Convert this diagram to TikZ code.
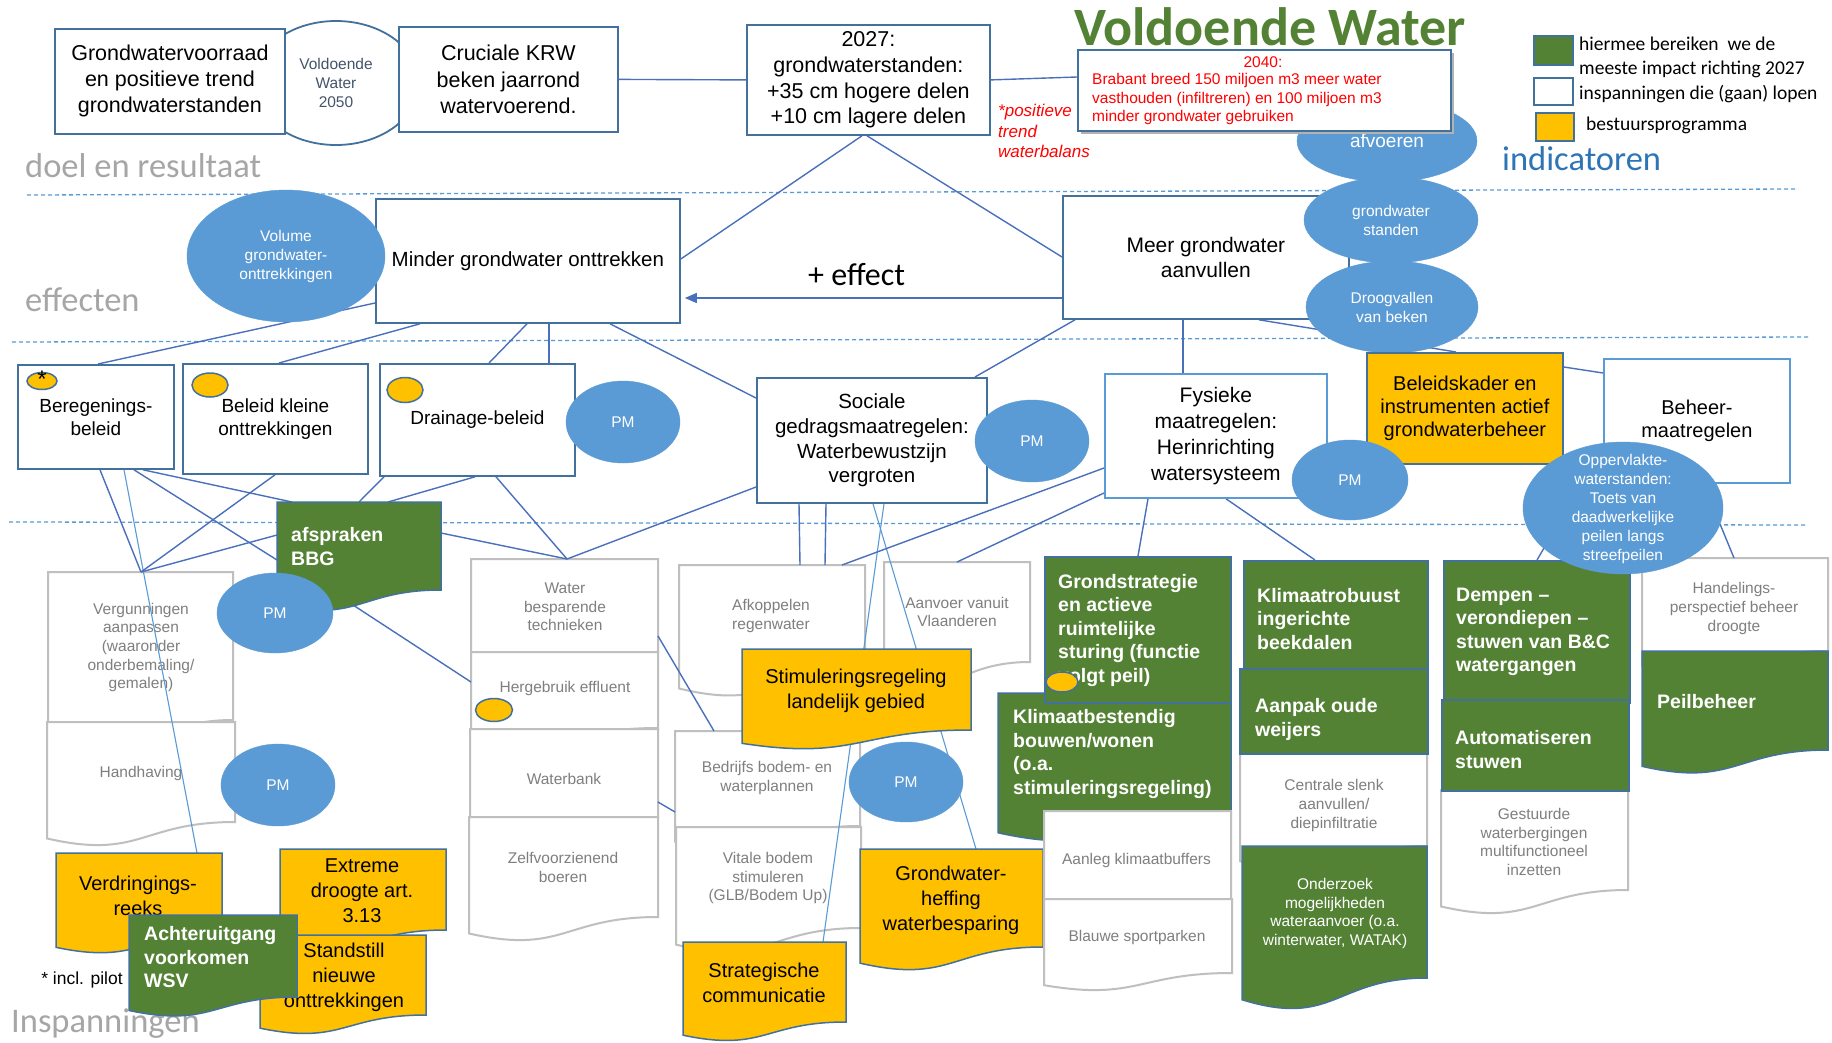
\documentclass[tikz,border=0pt]{standalone}
\usepackage{fontspec}
\setmainfont{Liberation Sans}
\newfontfamily\calfont{Carlito}
\usetikzlibrary{shapes.geometric,arrows.meta,calc,fit}
\definecolor{bbord}{RGB}{65,113,156}
\definecolor{lblue}{RGB}{91,155,213}
\definecolor{ggreen}{RGB}{84,130,53}
\definecolor{yyel}{RGB}{255,192,0}
\definecolor{gbord}{RGB}{191,191,191}
\definecolor{gtext}{RGB}{127,127,127}
\definecolor{connc}{RGB}{74,112,188}
\definecolor{labgray}{RGB}{166,166,166}
\definecolor{indblue}{RGB}{46,117,182}
\definecolor{slate}{RGB}{68,84,106}
\definecolor{redt}{RGB}{255,0,0}
\newcommand\fs[2]{\fontsize{#1}{#2}\selectfont}
\pgfdeclarelayer{bgl}
\pgfdeclarelayer{grayl}
\pgfdeclarelayer{linel}
\pgfsetlayers{bgl,grayl,linel,main}
\newcommand\docsh[6]{%
  \node[fit={(#3,#4)(#5,#6)},inner sep=0pt,outer sep=0pt] (#1) {};
  \pgfmathsetmacro\dmx{(#3+#5)/2}%
  \pgfmathsetmacro\dyl{#4+1.1646*(#6-#4)}%
  \pgfmathsetmacro\dcy{\dyl+1.31*(\dyl-#6)}%
  \path[#2] (#3,#4) -- (#5,#4) -- (#5,#6) .. controls (\dmx,#6) and (\dmx,\dcy) .. (#3,\dyl) -- cycle;
}
\begin{document}
\begin{tikzpicture}[x=1pt,y=-1pt,
  bx/.style={draw=bbord, line width=1.8pt, fill=white, inner sep=0pt, align=center, anchor=north west},
  bxl/.style={bx, draw=lblue},
  gdoc/.style={draw=gbord, line width=2pt, fill=white},
  ydoc/.style={draw=bbord, line width=1.5pt, fill=yyel},
  grdoc/.style={draw=bbord, line width=1.5pt, fill=ggreen},
  grbox/.style={draw=bbord, line width=1.5pt, fill=ggreen, inner sep=0pt, anchor=north west},
  gt/.style={inner sep=0pt, align=center, text=gtext, font=\fs{15.5}{18.7}},
  wt/.style={inner sep=0pt, align=left, text=white, font=\bfseries\fs{19.5}{23.5}, anchor=west},
  yt/.style={inner sep=0pt, align=center, font=\fs{20}{25}},
  bell/.style={ellipse, fill=lblue, draw=lblue, inner sep=0pt, text=white, align=center, font=\fs{15.5}{19}},
  yell/.style={ellipse, fill=yyel, draw=bbord, line width=1.5pt, inner sep=0pt},
  conn/.style={draw=connc, line width=1.4pt},
  lconn/.style={draw=lblue, line width=1.1pt},
  dline/.style={draw=lblue, line width=1.3pt, dash pattern=on 4pt off 3pt},
  lab/.style={inner sep=0pt, anchor=base west, font=\calfont\fs{34.5}{40}, text=labgray}]
\useasboundingbox (0,0) rectangle (1832,1042);
\begin{pgfonlayer}{bgl}
\fill[white] (0,0) rectangle (1832,1042);
\draw[dline] (27,195) -- (1798,189);
\draw[dline] (12,342) -- (1810,337);
\draw[dline] (9,522) -- (1805,525);
\end{pgfonlayer}

% section labels
\node[lab] (lab1) at (25,177) {doel en resultaat};
\node[lab] (lab2) at (25,311) {effecten};
\node[lab] (lab3) at (11,1032) {Inspanningen};
\node[lab, text=indblue] (ind) at (1502,170) {indicatoren};
\node[inner sep=0pt, anchor=base, font=\calfont\bfseries\fs{54}{60}, text=ggreen] (title) at (1270,45) {Voldoende Water};

% legend
\node[draw=bbord, line width=1.5pt, fill=ggreen, minimum width=39, minimum height=29, anchor=north west, inner sep=0pt] (lg1) at (1533,35) {};
\node[draw=bbord, line width=1.5pt, fill=white, minimum width=39, minimum height=27, anchor=north west, inner sep=0pt] (lg2) at (1533,77) {};
\node[draw=bbord, line width=1.5pt, fill=yyel, minimum width=38, minimum height=28, anchor=north west, inner sep=0pt] (lg3) at (1535,112) {};
\node[inner sep=0pt, anchor=west, align=left, font=\calfont\fs{19.5}{24}] (lt1) at (1579,57) {hiermee bereiken\ \ we de\\meeste impact richting 2027};
\node[inner sep=0pt, anchor=west, font=\calfont\fs{19.5}{24}] (lt2) at (1579,94) {inspanningen die (gaan) lopen};
\node[inner sep=0pt, anchor=west, font=\calfont\fs{19.5}{24}] (lt3) at (1586,125) {bestuursprogramma};

% gray document boxes
\begin{pgfonlayer}{grayl}
\docsh{verg}{gdoc}{48}{572}{233}{720}
\node[gt] (vergT) at (141,647.5) {Vergunningen\\aanpassen\\(waaronder\\onderbemaling/\\gemalen)};
\docsh{handh}{gdoc}{47}{722}{235}{822}
\node[gt] (handhT) at (141,773) {Handhaving};
\docsh{wbesp}{gdoc}{471}{559}{658}{652}
\node[gt] (wbespT) at (565,607) {Water\\besparende\\technieken};
\docsh{herg}{gdoc}{471}{652}{658}{728}
\node[gt] (hergT) at (565,688) {Hergebruik effluent};
\docsh{wbank}{gdoc}{470}{729}{658}{817}
\node[gt] (wbankT) at (564,779) {Waterbank};
\docsh{zelfv}{gdoc}{469}{817}{658}{917}
\node[gt] (zelfvT) at (563,867.5) {Zelfvoorzienend\\boeren};
\docsh{afkop}{gdoc}{679}{565}{865}{671}
\node[gt] (afkopT) at (771,616) {Afkoppelen\\regenwater};
\docsh{aanvoer}{gdoc}{884}{562}{1030}{662}
\node[gt] (aanvoerT) at (957,612) {Aanvoer vanuit\\Vlaanderen};
\docsh{bedrijf}{gdoc}{675}{731}{860}{826}
\node[gt] (bedrijfT) at (767,778) {Bedrijfs bodem- en\\waterplannen};
\docsh{vitale}{gdoc}{676}{827}{861}{928}
\node[gt] (vitaleT) at (768,878) {Vitale bodem\\stimuleren\\(GLB/Bodem Up)};
\docsh{handel}{gdoc}{1642}{558}{1828}{651}
\node[gt] (handelT) at (1734,608.5) {Handelings-\\perspectief beheer\\droogte};
\docsh{centr}{gdoc}{1240}{753}{1427}{846}
\node[gt] (centrT) at (1334,805.5) {Centrale slenk\\aanvullen/\\diepinfiltratie};
\docsh{gestuurd}{gdoc}{1441}{790}{1628}{890}
\node[gt] (gestT) at (1534,842) {Gestuurde\\waterbergingen\\multifunctioneel\\inzetten};
\end{pgfonlayer}

% top boxes
\node[ellipse, draw=bbord, line width=1.8pt, fill=white, minimum width=166, minimum height=124, inner sep=0pt, align=center, text=slate, font=\fs{15.5}{19}] (vw) at (336,83) {Voldoende\\Water\\2050};
\node[bx, minimum width=230, minimum height=105, font=\fs{21.5}{26}] (boxA) at (54,28) {Grondwatervoorraad\\en positieve trend\\grondwaterstanden};
\node[bx, minimum width=219, minimum height=105, font=\fs{21.5}{26.5}] (cruc) at (398,26) {Cruciale KRW\\beken jaarrond\\watervoerend.};
\node[bx, minimum width=243, minimum height=110, font=\fs{21.5}{25.7}] (y2027) at (746,24) {2027:\\grondwaterstanden:\\+35 cm hogere delen\\+10 cm lagere delen};
\node[inner sep=0pt, anchor=west, align=left, text=redt, font=\itshape\fs{17}{20.5}] (posit) at (998,131) {*positieve\\trend\\waterbalans};

% effect level
\node[bx, minimum width=304, minimum height=124, font=\fs{20.5}{25}] (minder) at (375,198) {Minder grondwater onttrekken};
\node[bx, minimum width=286, minimum height=123, font=\fs{21}{25}] (meer) at (1062,195) {Meer grondwater\\aanvullen};
\node[inner sep=0pt, anchor=base west, font=\calfont\fs{32}{36}] (eff) at (808,285) {+ effect};
\node[bell, minimum width=198, minimum height=132] (volume) at (286,256) {Volume\\grondwater-\\onttrekkingen};
\node[bell, minimum width=180, minimum height=82, font=\fs{19}{22}] (afvoer) at (1387,141) {afvoeren};
\node[bell, minimum width=174, minimum height=86] (gwst) at (1391,220) {grondwater\\standen};
\node[bell, minimum width=172, minimum height=92] (droog) at (1392,307) {Droogvallen\\van beken};
\fill[black!30] (1081,53) rectangle (1454,134);
\node[bx, line width=1.5pt, minimum width=373, minimum height=81] (y2040) at (1077,49) {};
\node[inner sep=0pt, text=redt, font=\fs{15.5}{18.7}] (t2040a) at (1263,62) {2040:};
\node[inner sep=0pt, anchor=west, align=left, text=redt, font=\fs{15.5}{18.7}] (t2040b) at (1092,99) {Brabant breed 150 miljoen m3 meer water\\vasthouden (infiltreren) en 100 miljoen m3\\minder grondwater gebruiken};

% middle row
\node[bx, minimum width=156, minimum height=104, font=\fs{19}{23}] (bereg) at (17,364) {Beregenings-\\beleid};
\node[bx, minimum width=185, minimum height=110, font=\fs{19}{23}] (kleine) at (182,363) {Beleid kleine\\onttrekkingen};
\node[bx, minimum width=195, minimum height=112, font=\fs{19}{23}] (drain) at (379,363) {Drainage-beleid};
\node[bx, minimum width=230, minimum height=125, font=\fs{20.5}{24.7}] (sociale) at (756,377) {Sociale\\gedragsmaatregelen:\\Waterbewustzijn\\vergroten};
\node[bxl, minimum width=222, minimum height=124, font=\fs{21}{26}] (fysiek) at (1104,373) {Fysieke\\maatregelen:\\Herinrichting\\watersysteem};
\node[bx, fill=yyel, minimum width=196, minimum height=111, font=\fs{20}{23}] (beleidsk) at (1366,352) {Beleidskader en\\instrumenten actief\\grondwaterbeheer};
\node[bxl, minimum width=186, minimum height=124, font=\fs{20}{23}] (beheer) at (1603,358) {Beheer-\\maatregelen};

% coloured inspanningen
\docsh{bbg}{grdoc}{277}{502}{441}{590}
\node[wt] (bbgT) at (291,546.5) {afspraken\\BBG};
\docsh{stimul}{ydoc}{742}{649}{971}{730}
\node[yt] (stimulT) at (856,690.5) {Stimuleringsregeling\\landelijk gebied};
\docsh{heffing}{ydoc}{860}{849}{1043}{947}
\node[yt] (heffingT) at (951,900) {Grondwater-\\heffing\\waterbesparing};
\docsh{strateg}{ydoc}{683}{942}{846}{1022}
\node[yt] (strategT) at (764,982.5) {Strategische\\communicatie};
\docsh{verdr}{ydoc}{56}{853}{222}{934}
\node[yt] (verdrT) at (138,895.5) {Verdringings-\\reeks};
\docsh{extreme}{ydoc}{280}{849}{446}{930}
\node[yt] (extremeT) at (362,891) {Extreme\\droogte art.\\3.13};
\docsh{standst}{ydoc}{260}{935}{426}{1015}
\node[yt] (standstT) at (344,977) {Standstill\\nieuwe\\onttrekkingen};
\docsh{achter}{grdoc}{129}{915}{297}{997}
\node[wt] (achterT) at (144,957.5) {Achteruitgang\\voorkomen\\WSV};
\node[inner sep=0pt, font=\fs{17.5}{20}] (pilot) at (82,980) {* incl. pilot};

\docsh{klimbest}{grdoc}{998}{693}{1231}{813}
\node[wt] (klimbestT) at (1013,754) {Klimaatbestendig\\bouwen/wonen\\(o.a.\\stimuleringsregeling)};
\node[grbox, minimum width=186, minimum height=146] (grondstr) at (1044,556) {};
\node[wt] (grondstrT) at (1058,630) {Grondstrategie\\en actieve\\ruimtelijke\\sturing (functie\\volgt peil)};
\node[yell, minimum width=32, minimum height=20] (ye4) at (1062,682) {};
\docsh{aanleg}{gdoc}{1044}{811}{1231}{899}
\node[gt] (aanlegT) at (1136.5,860) {Aanleg klimaatbuffers};
\docsh{blauw}{gdoc}{1044}{899}{1232}{973}
\node[gt] (blauwT) at (1137,937) {Blauwe sportparken};

\node[grbox, minimum width=184, minimum height=108] (klimrob) at (1243,560) {};
\node[wt] (klimrobT) at (1257,619) {Klimaatrobuust\\ingerichte\\beekdalen};
\node[grbox, minimum width=188, minimum height=85] (aanpak) at (1239,668) {};
\node[wt] (aanpakT) at (1255,719.5) {Aanpak oude\\weijers};
\docsh{onderz}{grdoc}{1242}{846}{1427}{978}
\node[inner sep=0pt, align=center, text=white, font=\fs{15.5}{18.7}] (onderzT) at (1335,913.5) {Onderzoek\\mogelijkheden\\wateraanvoer (o.a.\\winterwater, WATAK)};

\node[grbox, minimum width=186, minimum height=142] (dempen) at (1443,560) {};
\node[wt] (dempenT) at (1456,632) {Dempen --\\verondiepen --\\stuwen van B\&C\\watergangen};
\node[grbox, minimum width=187, minimum height=91] (autom) at (1441,699) {};
\node[wt] (automT) at (1455,749.5) {Automatiseren\\stuwen};
\docsh{peil}{grdoc}{1642}{651}{1828}{750}
\node[wt] (peilT) at (1657,702) {Peilbeheer};

% ellipses
\node[bell, minimum width=114, minimum height=82] (pm1) at (623,422) {PM};
\node[bell, minimum width=114, minimum height=82] (pm2) at (1032,441) {PM};
\node[bell, minimum width=116, minimum height=80] (pm3) at (1350,480) {PM};
\node[bell, minimum width=116, minimum height=80] (pm4) at (275,613) {PM};
\node[bell, minimum width=114, minimum height=82] (pm5) at (278,785) {PM};
\node[bell, minimum width=114, minimum height=80] (pm6) at (906,782) {PM};
\node[bell, minimum width=200, minimum height=132] (opperv) at (1623,508) {};
\node[inner sep=0pt, align=center, text=white, font=\fs{15.5}{19}] (oppervT) at (1623,509) {Oppervlakte-\\waterstanden:\\Toets van\\daadwerkelijke\\peilen langs\\streefpeilen};
\node[yell, minimum width=30, minimum height=17] (ye1) at (42,381) {};
\node[inner sep=0pt, font=\fs{24}{24}] (star) at (42,379) {*};
\node[yell, minimum width=36, minimum height=24] (ye2) at (210,385) {};
\node[yell, minimum width=36, minimum height=25] (ye3) at (405,390) {};
\node[yell, minimum width=37, minimum height=23] (ye5) at (494,710) {};

% connectors
\begin{pgfonlayer}{linel}
\draw[conn] (cruc.east) -- (y2027.west);
\draw[conn] (y2027.east) -- ($(y2040.north west)+(0,28)$);
\draw[conn] ($(y2027.south west)+(116,0)$) -- ($(minder.north east)+(0,61)$);
\draw[conn] ($(y2027.south west)+(121,0)$) -- ($(meer.north west)+(0,62)$);
\draw[conn, -{Triangle[length=12pt,width=10pt]}] ($(meer.north west)+(0,103)$) -- ($(minder.north east)+(4,100)$);
\draw[conn] ($(bereg.north west)+(81,0)$) -- ($(minder.north west)+(0,105)$);
\draw[conn] ($(kleine.north west)+(97,0)$) -- ($(minder.south west)+(45,0)$);
\draw[conn] ($(drain.north west)+(110,0)$) -- ($(minder.south west)+(152,0)$);
\draw[conn] ($(drain.north west)+(170,0)$) -- ($(minder.south west)+(174,0)$);
\draw[conn] ($(minder.south west)+(235,0)$) -- ($(sociale.north west)+(0,21)$);
\draw[conn] ($(meer.south west)+(13,0)$) -- ($(sociale.north west)+(219,0)$);
\draw[conn] ($(meer.south west)+(121,0)$) -- ($(fysiek.north west)+(79,0)$);
\draw[conn] ($(meer.south west)+(197,0)$) -- ($(beleidsk.north west)+(90,0)$);
\draw[conn] ($(beleidsk.north east)+(0,15)$) -- ($(beheer.north west)+(0,15)$);
\draw[conn] ($(bereg.south west)+(83,0)$) -- ($(verg.north west)+(93,0)$);
\draw[conn] ($(bereg.south west)+(117,0)$) -- ($(bbg.north west)+(0,58)$);
\draw[conn] ($(bereg.south west)+(126,0)$) -- ($(bbg.north west)+(15,0)$);
\draw[lconn] ($(bereg.south west)+(107,0)$) -- ($(verdr.north west)+(141,0)$);
\draw[conn] ($(kleine.south west)+(93,0)$) -- ($(verg.north west)+(93,0)$);
\draw[conn] ($(bbg.north west)+(0,33)$) -- ($(verg.north west)+(93,0)$);
\draw[conn] ($(drain.south west)+(5,0)$) -- ($(bbg.north west)+(82,0)$);
\draw[conn] ($(drain.south west)+(96,0)$) -- ($(bbg.north west)+(111,0)$);
\draw[conn] ($(drain.south west)+(117,0)$) -- ($(wbesp.north west)+(96,0)$);
\draw[conn] ($(bbg.north east)+(0,31)$) -- ($(wbesp.north west)+(96,0)$);
\draw[conn] ($(sociale.north west)+(0,110)$) -- ($(wbesp.north west)+(96,0)$);
\draw[conn] ($(bbg.south west)+(76,15)$) -- ($(herg.north west)+(0,30)$);
\draw[conn] ($(wbesp.north east)+(0,77)$) -- ($(bedrijf.north west)+(39,0)$);
\draw[conn] ($(wbank.north east)+(0,73)$) -- ($(bedrijf.north west)+(0,81)$);
\draw[conn] ($(sociale.south west)+(43,0)$) -- ($(afkop.north west)+(121,0)$);
\draw[conn] ($(sociale.south west)+(70,0)$) -- ($(afkop.north west)+(146,0)$);
\draw[lconn] ($(sociale.south west)+(117,0)$) -- ($(heffing.north west)+(116,0)$);
\draw[lconn] ($(sociale.south west)+(128,0)$) -- ($(strateg.north west)+(140,0)$);
\draw[conn] ($(fysiek.north west)+(0,95)$) -- ($(afkop.north west)+(163,0)$);
\draw[conn] ($(fysiek.north west)+(0,120)$) -- ($(aanvoer.north west)+(73,0)$);
\draw[conn] ($(fysiek.south west)+(44,0)$) -- ($(grondstr.north west)+(94,0)$);
\draw[conn] ($(fysiek.south west)+(122,0)$) -- ($(klimrob.north west)+(72,0)$);
\draw[conn] ($(opperv.center)+(-79,40)$) -- ($(dempen.north west)+(94,0)$);
\draw[conn] ($(opperv.center)+(97,16)$) -- ($(handel.north west)+(92,0)$);
\end{pgfonlayer}
\end{tikzpicture}
\end{document}
